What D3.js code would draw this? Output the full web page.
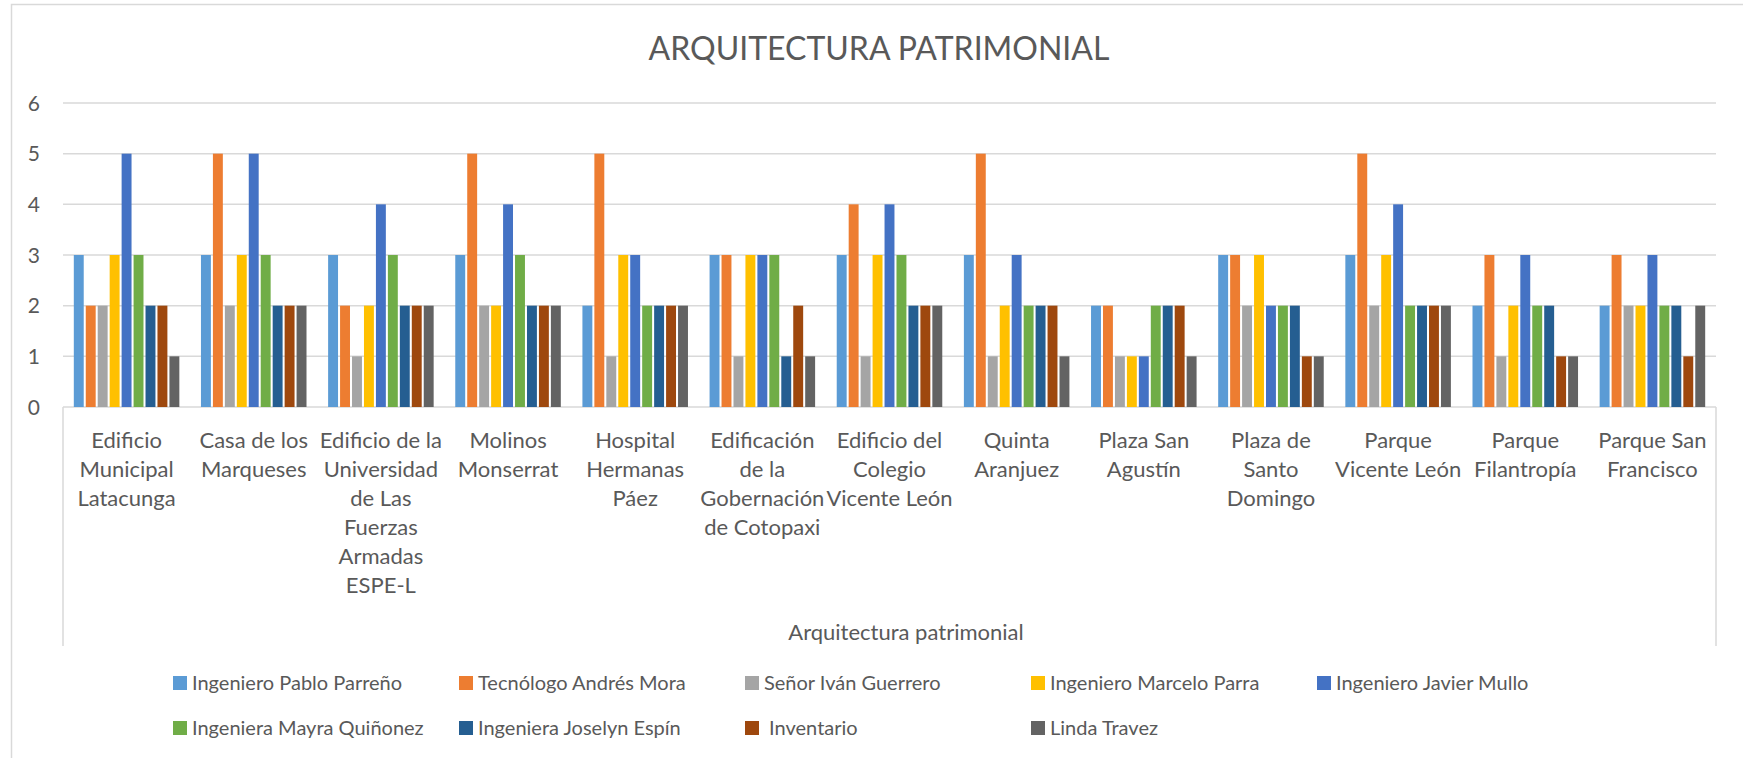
<!DOCTYPE html>
<html>
<head>
<meta charset="utf-8">
<script src="https://cdn.jsdelivr.net/npm/d3@7"></script>
<style>
	body { margin: 0; background: #fff; }
	text { font-family: Lato, "Open Sans", sans-serif; fill: #595959; }
</style>
</head>
<body>
<svg id="chart" width="1743" height="758"></svg>
<script>
// chart data
var categories = [
	"Edificio Municipal Latacunga",
	"Casa de los Marqueses",
	"Edificio de la Universidad de Las Fuerzas Armadas ESPE-L",
	"Molinos Monserrat",
	"Hospital Hermanas Páez",
	"Edificación de la Gobernación de Cotopaxi",
	"Edificio del Colegio Vicente León",
	"Quinta Aranjuez",
	"Plaza San Agustín",
	"Plaza de Santo Domingo",
	"Parque Vicente León",
	"Parque Filantropía",
	"Parque San Francisco"
];

// how the labels wrap in the original
var categoryLines = [
	["Edificio", "Municipal", "Latacunga"],
	["Casa de los", "Marqueses"],
	["Edificio de la", "Universidad", "de Las", "Fuerzas", "Armadas", "ESPE-L"],
	["Molinos", "Monserrat"],
	["Hospital", "Hermanas", "Páez"],
	["Edificación", "de la", "Gobernación", "de Cotopaxi"],
	["Edificio del", "Colegio", "Vicente León"],
	["Quinta", "Aranjuez"],
	["Plaza San", "Agustín"],
	["Plaza de", "Santo", "Domingo"],
	["Parque", "Vicente León"],
	["Parque", "Filantropía"],
	["Parque San", "Francisco"]
];

var seriesNames = [
	"Ingeniero Pablo Parreño",
	"Tecnólogo Andrés Mora",
	"Señor Iván Guerrero",
	"Ingeniero Marcelo Parra",
	"Ingeniero Javier Mullo",
	"Ingeniera Mayra Quiñonez",
	"Ingeniera Joselyn Espín",
	" Inventario",
	"Linda Travez"
];

var seriesColors = ["#5B9BD5", "#ED7D31", "#A5A5A5", "#FFC000", "#4472C4",
	"#70AD47", "#255E91", "#9E480E", "#636363"];

// one value per category for each series
var pabloParreno   = [3, 3, 3, 3, 2, 3, 3, 3, 2, 3, 3, 2, 2];
var andresMora     = [2, 5, 2, 5, 5, 3, 4, 5, 2, 3, 5, 3, 3];
var ivanGuerrero   = [2, 2, 1, 2, 1, 1, 1, 1, 1, 2, 2, 1, 2];
var marceloParra   = [3, 3, 2, 2, 3, 3, 3, 2, 1, 3, 3, 2, 2];
var javierMullo    = [5, 5, 4, 4, 3, 3, 4, 3, 1, 2, 4, 3, 3];
var mayraQuinonez  = [3, 3, 3, 3, 2, 3, 3, 2, 2, 2, 2, 2, 2];
var joselynEspin   = [2, 2, 2, 2, 2, 1, 2, 2, 2, 2, 2, 2, 2];
var inventario     = [2, 2, 2, 2, 2, 2, 2, 2, 2, 1, 2, 1, 1];
var lindaTravez    = [1, 2, 2, 2, 2, 1, 2, 1, 1, 1, 2, 1, 2];

var seriesValues = [pabloParreno, andresMora, ivanGuerrero, marceloParra,
	javierMullo, mayraQuinonez, joselynEspin, inventario, lindaTravez];

var yTicks = [0, 1, 2, 3, 4, 5, 6];

var svg = d3.select("#chart");

svg.append("rect")
	.attr("x", 0).attr("y", 0)
	.attr("width", 1743).attr("height", 758)
	.style("fill", "#fff");

// chart area border (open on the right and bottom, as in the crop)
svg.append("path")
	.attr("d", "M11.5,780 L11.5,4.5 L1760,4.5")
	.style("fill", "none")
	.style("stroke", "#d9d9d9")
	.style("stroke-width", 1.5);

var plotLeft = 63, plotRight = 1716, plotTop = 103, plotBottom = 407;

var y = d3.scaleLinear().domain([0, 6]).range([plotBottom, plotTop]);

var x0 = d3.scaleBand()
	.domain(categories)
	.range([plotLeft, plotRight])
	.paddingInner(0.17)
	.paddingOuter(0.085);

var x1 = d3.scaleBand()
	.domain(d3.range(seriesNames.length))
	.range([0, x0.bandwidth()])
	.paddingInner(0.17);

// gridlines
svg.append("g").selectAll("line")
	.data(yTicks)
	.join("line")
	.attr("x1", plotLeft)
	.attr("x2", plotRight)
	.attr("y1", d => y(d))
	.attr("y2", d => y(d))
	.style("stroke", "#d9d9d9")
	.style("stroke-width", 1.5);

// y tick labels
svg.append("g").selectAll("text")
	.data(yTicks)
	.join("text")
	.attr("x", 40)
	.attr("y", d => y(d))
	.attr("dy", "0.36em")
	.style("text-anchor", "end")
	.style("font-size", "21px")
	.text(d => d);

// bars
var groups = svg.append("g").selectAll("g")
	.data(categories)
	.join("g")
	.attr("transform", d => "translate(" + x0(d) + ",0)");

groups.selectAll("rect")
	.data((d, i) => seriesValues.map((s, k) => ({ k: k, v: s[i] })))
	.join("rect")
	.attr("x", d => x1(d.k))
	.attr("width", x1.bandwidth())
	.attr("y", d => y(d.v))
	.attr("height", d => y(0) - y(d.v))
	.style("fill", d => seriesColors[d.k]);

// category axis box
svg.append("path")
	.attr("d", "M" + plotLeft + "," + plotBottom + " L" + plotLeft + ",646 M" +
		plotRight + "," + plotBottom + " L" + plotRight + ",646")
	.style("fill", "none")
	.style("stroke", "#d9d9d9")
	.style("stroke-width", 1.5);

// category labels
var labels = svg.append("g").selectAll("text")
	.data(categories)
	.join("text")
	.attr("x", d => x0(d) + x0.bandwidth() / 2)
	.attr("y", 448)
	.style("text-anchor", "middle")
	.style("font-size", "22px");

labels.selectAll("tspan")
	.data((d, i) => categoryLines[i])
	.join("tspan")
	.attr("x", function () { return d3.select(this.parentNode).attr("x"); })
	.attr("dy", (d, i) => i === 0 ? 0 : 29)
	.text(d => d);

// axis title
svg.append("text")
	.attr("x", 906)
	.attr("y", 632)
	.attr("dy", "0.36em")
	.style("text-anchor", "middle")
	.style("font-size", "22px")
	.text("Arquitectura patrimonial");

// chart title
svg.append("text")
	.attr("x", 879)
	.attr("y", 48)
	.attr("dy", "0.36em")
	.style("text-anchor", "middle")
	.style("font-size", "32px")
	.text("ARQUITECTURA PATRIMONIAL");

// legend
var legend = svg.append("g").selectAll("g")
	.data(seriesNames)
	.join("g")
	.attr("transform", (d, i) => "translate(" + (173 + (i % 5) * 286) + "," +
		(i < 5 ? 683 : 728) + ")");

legend.append("rect")
	.attr("x", 0)
	.attr("y", -7)
	.attr("width", 14)
	.attr("height", 14)
	.style("fill", (d, i) => seriesColors[i]);

legend.append("text")
	.attr("x", 19)
	.attr("y", 0)
	.attr("dy", "0.36em")
	.style("font-size", "20px")
	.style("white-space", "pre")
	.text(d => d);
</script>
</body>
</html>
